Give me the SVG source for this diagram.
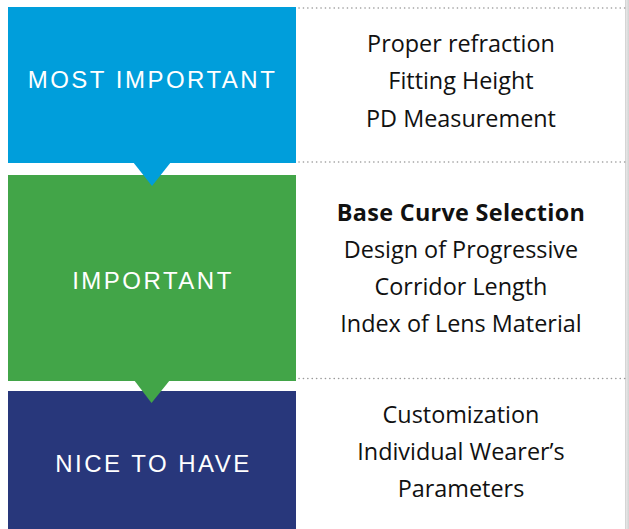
<svg xmlns="http://www.w3.org/2000/svg" width="629" height="529" viewBox="0 0 629 529">
  <defs>
    <linearGradient id="edge" x1="0" y1="0" x2="1" y2="0">
      <stop offset="0" stop-color="#c9c9c9"/>
      <stop offset="0.3" stop-color="#e6e6e6"/>
      <stop offset="1" stop-color="#d2d2d2"/>
    </linearGradient>
  </defs>
  <style>
    .lvl { font-family: "Liberation Sans", Arial, sans-serif; font-size: 24px; fill: #ffffff; letter-spacing: 2.5px; text-anchor: middle; }
    .item { font-family: "Open Sans", "Noto Sans", sans-serif; font-size: 23.4px; fill: #111111; text-anchor: middle; }
    .bold { font-weight: bold; letter-spacing: 0.3px; }
    .sep { stroke: #9a9a9a; stroke-width: 1.6; stroke-dasharray: 0.1 4.3; stroke-linecap: round; fill: none; }
  </style>
  <rect x="0" y="0" width="629" height="529" fill="#ffffff"/>
  <rect x="625" y="0" width="4" height="529" fill="url(#edge)"/>

  <g id="separators">
    <line class="sep" x1="299" y1="8" x2="626" y2="8"/>
    <line class="sep" x1="299" y1="162" x2="626" y2="162"/>
    <line class="sep" x1="299" y1="378.5" x2="626" y2="378.5"/>
  </g>

  <g id="most-important">
    <rect x="8" y="7" width="288" height="156" fill="#009edb"/>
    <text class="lvl" x="152.5" y="88">MOST IMPORTANT</text>
  </g>

  <g id="important">
    <rect x="8" y="175" width="288" height="206" fill="#42a548"/>
    <text class="lvl" x="153" y="289">IMPORTANT</text>
  </g>

  <g id="nice-to-have">
    <rect x="8" y="391" width="288" height="138" fill="#28377b"/>
    <text class="lvl" x="153.5" y="472">NICE TO HAVE</text>
  </g>

  <g id="connectors">
    <polygon points="133,162 171,162 152,186" fill="#009edb"/>
    <polygon points="134,380 170,380 151.5,403" fill="#42a548"/>
  </g>

  <g id="most-important-items">
    <text class="item" x="461" y="52">Proper refraction</text>
    <text class="item" x="461" y="89">Fitting Height</text>
    <text class="item" x="461" y="126.5">PD Measurement</text>
  </g>

  <g id="important-items">
    <text class="item bold" x="461" y="220.5">Base Curve Selection</text>
    <text class="item" x="461" y="258">Design of Progressive</text>
    <text class="item" x="461" y="295">Corridor Length</text>
    <text class="item" x="461" y="332">Index of Lens Material</text>
  </g>

  <g id="nice-to-have-items">
    <text class="item" x="461" y="423">Customization</text>
    <text class="item" x="461" y="460">Individual Wearer’s</text>
    <text class="item" x="461" y="497">Parameters</text>
  </g>
</svg>
